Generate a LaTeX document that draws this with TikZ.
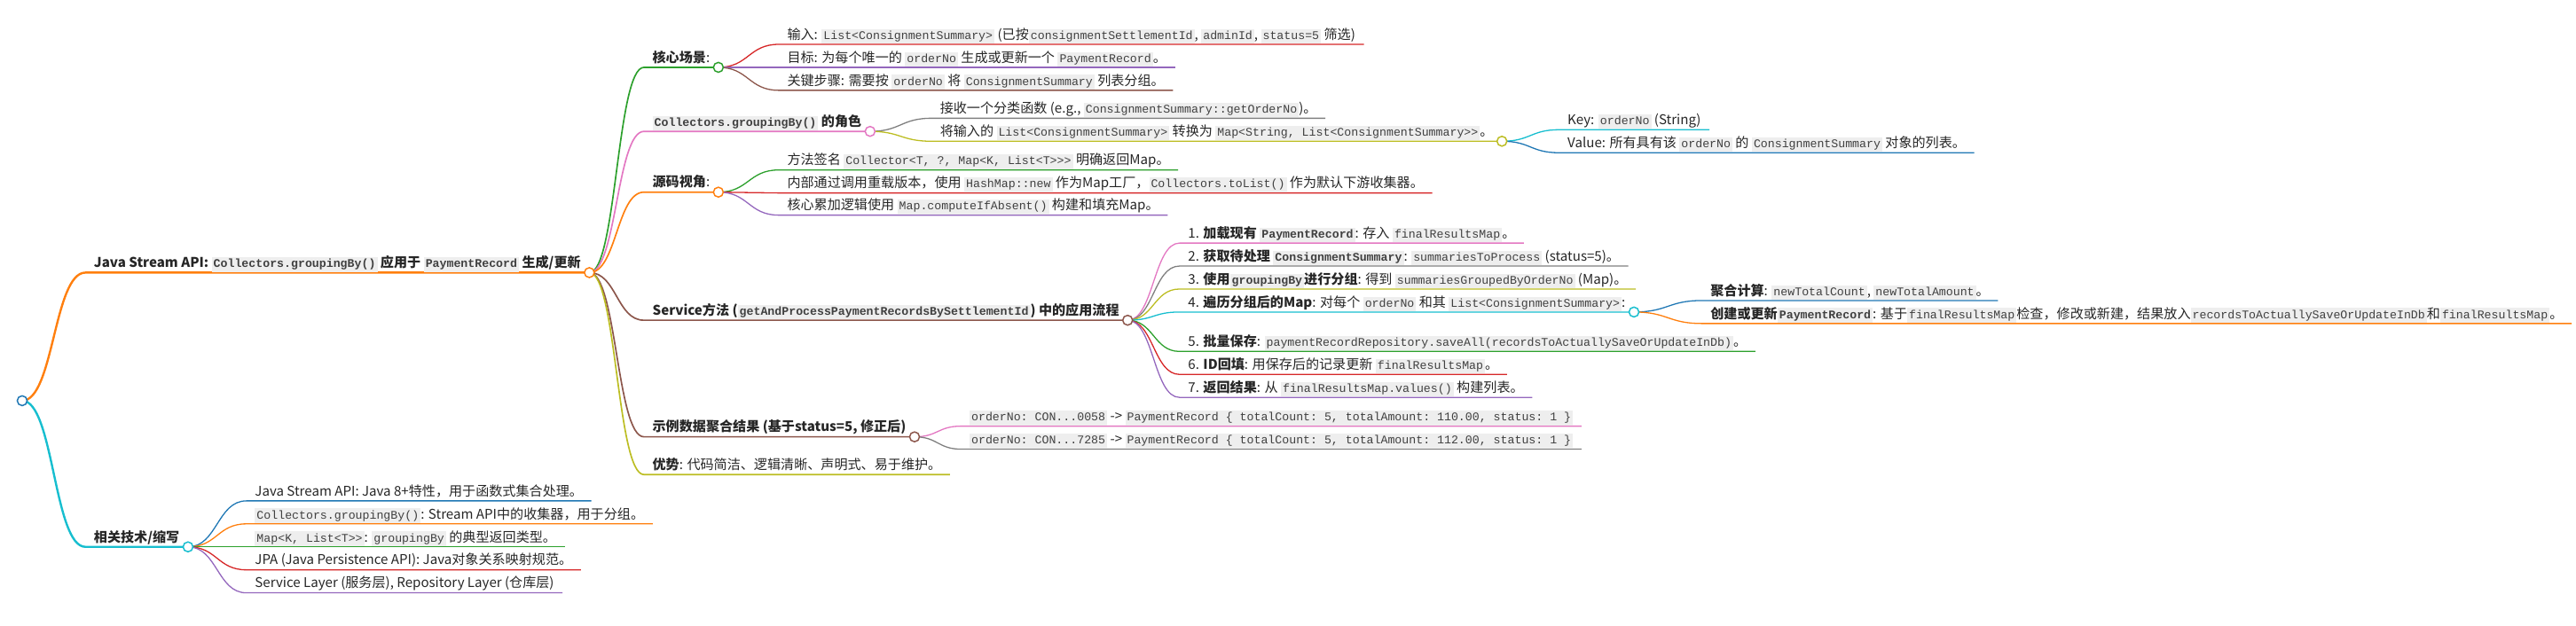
\documentclass[tikz,border=0pt]{standalone}
\usepackage{fontspec}
\setmainfont{Noto Sans CJK SC}
\setmonofont{Liberation Mono}
\usetikzlibrary{calc}
\pgfdeclarelayer{bg}
\pgfsetlayers{bg,main}

\definecolor{cBlue}{HTML}{1F77B4}
\definecolor{cOrange}{HTML}{FF7F0E}
\definecolor{cGreen}{HTML}{2CA02C}
\definecolor{cRed}{HTML}{D62728}
\definecolor{cPurple}{HTML}{9467BD}
\definecolor{cBrown}{HTML}{8C564B}
\definecolor{cPink}{HTML}{E377C2}
\definecolor{cGray}{HTML}{7F7F7F}
\definecolor{cOlive}{HTML}{BCBD22}
\definecolor{cCyan}{HTML}{17BECF}
\definecolor{codebg}{HTML}{EEEEEE}
\definecolor{ink}{HTML}{262626}
\definecolor{codeink}{HTML}{404040}

\newcommand{\mono}[1]{{\setlength{\fboxsep}{1.1pt}\colorbox{codebg}{\color{codeink}\ttfamily\fontsize{7.15}{8}\selectfont\vphantom{(Ag}#1}}}

\begin{document}
\begin{tikzpicture}[
    x=1pt, y=-1pt,
    item/.style={anchor=south west, inner xsep=5pt, inner ysep=1pt, text height=6.4pt, text depth=1.9pt, font=\fontsize{8.15}{10}\selectfont, text=ink},
    knob/.style={circle, draw=#1, fill=white, line width=0.8pt, minimum size=6pt, inner sep=0pt},
    branch/.style={draw=#1, line width=0.7pt},
    link/.style={to path={.. controls ($(\tikztostart)!0.5!(\tikztotarget |- \tikztostart)$) and ($(\tikztostart |- \tikztotarget)!0.5!(\tikztotarget)$) .. (\tikztotarget)}}
]
    \useasboundingbox (0,0) rectangle (1568,381);

    % root and first level
    \node[knob=cBlue] (rootC) at (13.5,244) {};
    \node[item] (stream) at (52,166) {\textbf{Java Stream API: \mono{Collectors.groupingBy()} 应用于 \mono{PaymentRecord} 生成/更新}};
    \node[knob=cOrange] (streamC) at (stream.south east) {};
    \node[item] (related) at (52,333) {\textbf{相关技术/缩写}};
    \node[knob=cCyan] (relatedC) at (related.south east) {};

    % related techniques
    \node[item] (relStream) at (150,305) {Java Stream API: Java 8+特性，用于函数式集合处理。};
    \node[item] (relColl) at (150,319) {\mono{Collectors.groupingBy()}: Stream API中的收集器，用于分组。};
    \node[item] (relMap) at (150,333) {\mono{Map<K, List<T>{}>}: \mono{groupingBy} 的典型返回类型。};
    \node[item] (relJpa) at (150,347) {JPA (Java Persistence API): Java对象关系映射规范。};
    \node[item] (relLayer) at (150,361) {Service Layer (服务层), Repository Layer (仓库层)};

    % core scenario
    \node[item] (core) at (392,41) {\textbf{核心场景}:};
    \node[knob=cGreen] (coreC) at (core.south east) {};
    \node[item] (coreIn) at (474,27) {输入: \mono{List<ConsignmentSummary>} (已按\mono{consignmentSettlementId}, \mono{adminId}, \mono{status=5} 筛选)};
    \node[item] (coreGoal) at (474,41) {目标: 为每个唯一的 \mono{orderNo} 生成或更新一个 \mono{PaymentRecord}。};
    \node[item] (coreStep) at (474,55) {关键步骤: 需要按 \mono{orderNo} 将 \mono{ConsignmentSummary} 列表分组。};

    % role of groupingBy
    \node[item] (role) at (392,80) {\textbf{\mono{Collectors.groupingBy()} 的角色}};
    \node[knob=cPink] (roleC) at (role.south east) {};
    \node[item] (roleFn) at (567,72) {接收一个分类函数 (e.g., \mono{ConsignmentSummary::getOrderNo})。};
    \node[item] (roleMap) at (567,86) {将输入的 \mono{List<ConsignmentSummary>} 转换为 \mono{Map<String, List<ConsignmentSummary>{}>}。};
    \node[knob=cOlive] (roleMapC) at (roleMap.south east) {};
    \node[item] (mapKey) at (949,79) {Key: \mono{orderNo} (String)};
    \node[item] (mapVal) at (949,93) {Value: 所有具有该 \mono{orderNo} 的 \mono{ConsignmentSummary} 对象的列表。};

    % source view
    \node[item] (src) at (392,117) {\textbf{源码视角}:};
    \node[knob=cOrange] (srcC) at (src.south east) {};
    \node[item] (srcSig) at (474,103.5) {方法签名 \mono{Collector<T, ?, Map<K, List<T>{}>{}>} 明确返回Map。};
    \node[item] (srcImpl) at (474,117.5) {内部通过调用重载版本，使用 \mono{HashMap::new} 作为Map工厂，\mono{Collectors.toList()} 作为默认下游收集器。};
    \node[item] (srcAcc) at (474,131) {核心累加逻辑使用 \mono{Map.computeIfAbsent()} 构建和填充Map。};

    % service flow
    \node[item] (svc) at (392,195) {\textbf{Service方法 (\mono{getAndProcessPaymentRecordsBySettlementId}) 中的应用流程}};
    \node[knob=cBrown] (svcC) at (svc.south east) {};
    \node[item] (svc1) at (718,148) {1. \textbf{加载现有 \mono{PaymentRecord}}: 存入 \mono{finalResultsMap}。};
    \node[item] (svc2) at (718,162) {2. \textbf{获取待处理 \mono{ConsignmentSummary}}: \mono{summariesToProcess} (status=5)。};
    \node[item] (svc3) at (718,176) {3. \textbf{使用\mono{groupingBy}进行分组}: 得到 \mono{summariesGroupedByOrderNo} (Map)。};
    \node[item] (svc4) at (718,190) {4. \textbf{遍历分组后的Map}: 对每个 \mono{orderNo} 和其 \mono{List<ConsignmentSummary>}:};
    \node[knob=cCyan] (svc4C) at (svc4.south east) {};
    \node[item] (svcAgg) at (1036,183) {\textbf{聚合计算}: \mono{newTotalCount}, \mono{newTotalAmount}。};
    \node[item] (svcUpd) at (1036,197) {\textbf{创建或更新\mono{PaymentRecord}}: 基于\mono{finalResultsMap}检查，修改或新建，结果放入\mono{recordsToActuallySaveOrUpdateInDb}和\mono{finalResultsMap}。};
    \node[item] (svc5) at (718,214) {5. \textbf{批量保存}: \mono{paymentRecordRepository.saveAll(recordsToActuallySaveOrUpdateInDb)}。};
    \node[item] (svc6) at (718,228) {6. \textbf{ID回填}: 用保存后的记录更新 \mono{finalResultsMap}。};
    \node[item] (svc7) at (718,242) {7. \textbf{返回结果}: 从 \mono{finalResultsMap.values()} 构建列表。};

    % sample data and advantages
    \node[item] (demo) at (392,266) {\textbf{示例数据聚合结果 (基于status=5, 修正后)}};
    \node[knob=cBrown] (demoC) at (demo.south east) {};
    \node[item] (demoA) at (585,259.5) {\mono{orderNo: CON...0058} -> \mono{PaymentRecord \{ totalCount: 5, totalAmount: 110.00, status: 1 \}}};
    \node[item] (demoB) at (585,273.5) {\mono{orderNo: CON...7285} -> \mono{PaymentRecord \{ totalCount: 5, totalAmount: 112.00, status: 1 \}}};
    \node[item] (gain) at (392,289) {\textbf{优势}: 代码简洁、逻辑清晰、声明式、易于维护。};

    \begin{pgfonlayer}{bg}
    \draw[branch=cOrange, line width=1.3pt] (rootC.center) to[link] (stream.south west) -- (streamC.center);
    \draw[branch=cCyan, line width=1.3pt] (rootC.center) to[link] (related.south west) -- (relatedC.center);

    \draw[branch=cBlue] (relatedC.center) to[link] (relStream.south west) -- (relStream.south east);
    \draw[branch=cOrange] (relatedC.center) to[link] (relColl.south west) -- (relColl.south east);
    \draw[branch=cGreen] (relatedC.center) to[link] (relMap.south west) -- (relMap.south east);
    \draw[branch=cRed] (relatedC.center) to[link] (relJpa.south west) -- (relJpa.south east);
    \draw[branch=cPurple] (relatedC.center) to[link] (relLayer.south west) -- (relLayer.south east);

    \draw[branch=cGreen, line width=0.9pt] (streamC.center) to[link] (core.south west) -- (coreC.center);
    \draw[branch=cPink, line width=0.9pt] (streamC.center) to[link] (role.south west) -- (roleC.center);
    \draw[branch=cOrange, line width=0.9pt] (streamC.center) to[link] (src.south west) -- (srcC.center);
    \draw[branch=cBrown, line width=0.9pt] (streamC.center) to[link] (svc.south west) -- (svcC.center);
    \draw[branch=cBrown, line width=0.9pt] (streamC.center) to[link] (demo.south west) -- (demoC.center);
    \draw[branch=cOlive, line width=0.9pt] (streamC.center) to[link] (gain.south west) -- (gain.south east);

    \draw[branch=cRed] (coreC.center) to[link] (coreIn.south west) -- (coreIn.south east);
    \draw[branch=cPurple] (coreC.center) to[link] (coreGoal.south west) -- (coreGoal.south east);
    \draw[branch=cBrown] (coreC.center) to[link] (coreStep.south west) -- (coreStep.south east);

    \draw[branch=cGray] (roleC.center) to[link] (roleFn.south west) -- (roleFn.south east);
    \draw[branch=cOlive] (roleC.center) to[link] (roleMap.south west) -- (roleMapC.center);
    \draw[branch=cCyan] (roleMapC.center) to[link] (mapKey.south west) -- (mapKey.south east);
    \draw[branch=cBlue] (roleMapC.center) to[link] (mapVal.south west) -- (mapVal.south east);

    \draw[branch=cGreen] (srcC.center) to[link] (srcSig.south west) -- (srcSig.south east);
    \draw[branch=cRed] (srcC.center) to[link] (srcImpl.south west) -- (srcImpl.south east);
    \draw[branch=cPurple] (srcC.center) to[link] (srcAcc.south west) -- (srcAcc.south east);

    \draw[branch=cPink] (svcC.center) to[link] (svc1.south west) -- (svc1.south east);
    \draw[branch=cGray] (svcC.center) to[link] (svc2.south west) -- (svc2.south east);
    \draw[branch=cOlive] (svcC.center) to[link] (svc3.south west) -- (svc3.south east);
    \draw[branch=cCyan] (svcC.center) to[link] (svc4.south west) -- (svc4C.center);
    \draw[branch=cGreen] (svcC.center) to[link] (svc5.south west) -- (svc5.south east);
    \draw[branch=cRed] (svcC.center) to[link] (svc6.south west) -- (svc6.south east);
    \draw[branch=cPurple] (svcC.center) to[link] (svc7.south west) -- (svc7.south east);
    \draw[branch=cBlue] (svc4C.center) to[link] (svcAgg.south west) -- (svcAgg.south east);
    \draw[branch=cOrange] (svc4C.center) to[link] (svcUpd.south west) -- (svcUpd.south east);

    \draw[branch=cPink] (demoC.center) to[link] (demoA.south west) -- (demoA.south east);
    \draw[branch=cGray] (demoC.center) to[link] (demoB.south west) -- (demoB.south east);
    \end{pgfonlayer}
\end{tikzpicture}
\end{document}
